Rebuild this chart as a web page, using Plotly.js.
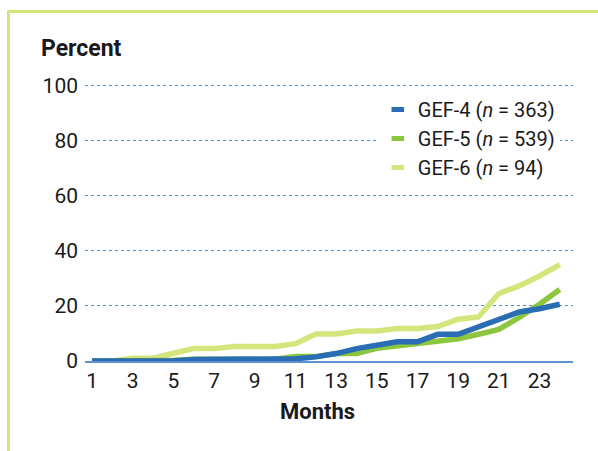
<!DOCTYPE html>
<html>
<head>
<meta charset="utf-8">
<script src="https://cdn.plot.ly/plotly-3.0.1.min.js"></script>
<style>
html,body{margin:0;padding:0;background:#fff;}
#frame{position:absolute;left:7px;top:10px;width:600px;height:460px;border-top:3px solid #d6e47c;border-left:3px solid #d6e47c;box-sizing:border-box;}
#chart{position:absolute;left:0;top:0;width:598px;height:451px;}
</style>
</head>
<body>
<div id="frame"></div>
<div id="chart"></div>
<script>
var months = [1,2,3,4,5,6,7,8,9,10,11,12,13,14,15,16,17,18,19,20,21,22,23,24];
var gef4 = [0,0,0,0,0,0.5,0.5,0.5,0.5,0.5,0.8,1.5,2.7,4.5,5.6,7,7,9.7,9.7,12.5,15.4,17.8,19,20.6];
var gef5 = [0,0,0,0,0.3,0.6,0.6,0.6,0.6,0.6,1.6,1.6,2.7,2.7,4.6,5.6,6.3,7.2,8.1,9.7,11.5,15.8,20.6,26];
var gef6 = [0,0,1,1,2.8,4.5,4.5,5.3,5.3,5.3,6.3,9.8,9.8,10.9,10.9,11.8,11.8,12.5,15.2,16,24.5,27.3,30.9,35];
var seriesNames = ["GEF-4 (<i>n</i> = 363)","GEF-5 (<i>n</i> = 539)","GEF-6 (<i>n</i> = 94)"];
var seriesColors = ['#2a6db5', '#8cc63e', '#d4e57c'];
var xTicks = [1,3,5,7,9,11,13,15,17,19,21,23];
var yTicks = [0,20,40,60,80,100];

var font = "Roboto, 'DejaVu Sans', sans-serif";
function tr(y, color){
  return {x: months, y: y, type: 'scatter', mode: 'lines', showlegend: false,
    line: {color: color, width: 5.5}, hoverinfo: 'skip'};
}
function leg(name, color){
  return {x: [null], y: [null], type: 'scatter', mode: 'markers', name: name,
    marker: {symbol: 'line-ew', size: 9, line: {width: 6, color: color}}};
}
var data = [
  tr(gef6, seriesColors[2]),
  tr(gef5, seriesColors[1]),
  tr(gef4, seriesColors[0]),
  leg(seriesNames[0], seriesColors[0]),
  leg(seriesNames[1], seriesColors[1]),
  leg(seriesNames[2], seriesColors[2])
];
var layout = {
  width: 598, height: 451,
  margin: {l: 85, r: 25, t: 83, b: 90},
  paper_bgcolor: 'rgba(0,0,0,0)', plot_bgcolor: 'rgba(0,0,0,0)',
  font: {family: font, color: '#1a1a1a', size: 21},
  showlegend: true,
  legend: {x: 0.60, y: 0.975, xanchor: 'left', yanchor: 'top', traceorder: 'normal',
    font: {size: 20, family: font, color: '#1a1a1a'}, bgcolor: '#ffffff', tracegroupgap: 0},
  xaxis: {range: [0.65, 24.65], tickvals: xTicks, ticktext: xTicks.map(String),
    showgrid: false, zeroline: false, showline: true, linecolor: '#5b93d0', linewidth: 2,
    ticks: '', tickfont: {size: 21}},
  yaxis: {range: [0, 101], tickvals: yTicks, ticktext: yTicks.map(String),
    showgrid: true, gridcolor: '#4a8fd0', griddash: 'dot', gridwidth: 1,
    zeroline: false, showline: false, ticks: '', tickfont: {size: 21}, ticklabelstandoff: 6},
  annotations: [
    {text: '<b>Percent</b>', xref: 'paper', yref: 'paper', x: -0.094, y: 1.068,
      xanchor: 'left', yanchor: 'bottom', showarrow: false, font: {size: 23, family: font, color: '#1a1a1a'}},
    {text: '<b>Months</b>', xref: 'paper', yref: 'paper', x: 0.477, y: -0.13,
      xanchor: 'center', yanchor: 'top', showarrow: false, font: {size: 22, family: font, color: '#1a1a1a'}}
  ]
};
Plotly.newPlot('chart', data, layout, {displayModeBar: false, staticPlot: true});
</script>
</body>
</html>
